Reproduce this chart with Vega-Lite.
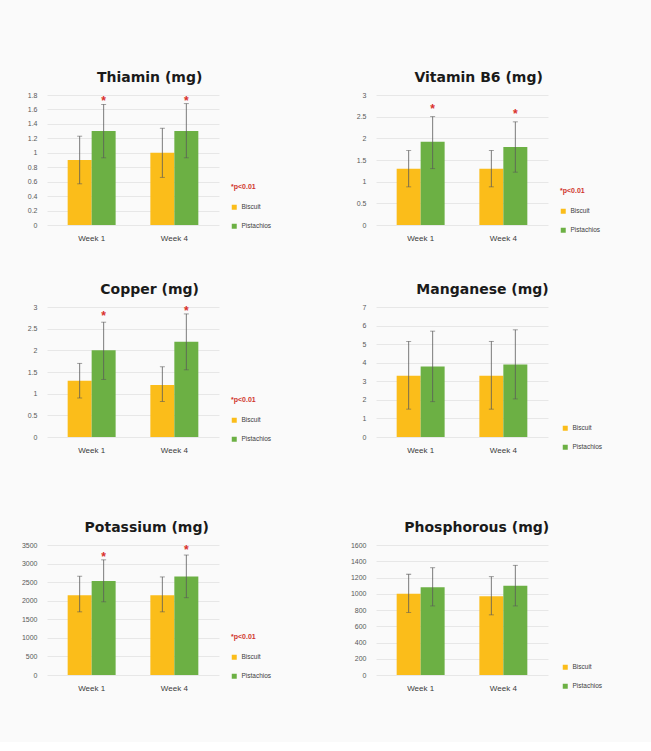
{
  "$schema": "https://vega.github.io/schema/vega-lite/v6.json",
  "background": "#fafafa",
  "padding": {"top": 71, "left": 21, "right": 50, "bottom": 50},
  "datasets": {
    "d": [
      {"n": "Thiamin", "week": "Week 1", "group": "Biscuit", "v": 0.9, "lo": 0.57, "hi": 1.23},
      {"n": "Thiamin", "week": "Week 1", "group": "Pistachios", "v": 1.3, "lo": 0.93, "hi": 1.67, "star": 1.76},
      {"n": "Thiamin", "week": "Week 4", "group": "Biscuit", "v": 1.0, "lo": 0.66, "hi": 1.34},
      {"n": "Thiamin", "week": "Week 4", "group": "Pistachios", "v": 1.3, "lo": 0.93, "hi": 1.68, "star": 1.76},
      {"n": "B6", "week": "Week 1", "group": "Biscuit", "v": 1.3, "lo": 0.88, "hi": 1.72},
      {"n": "B6", "week": "Week 1", "group": "Pistachios", "v": 1.92, "lo": 1.3, "hi": 2.5, "star": 2.74},
      {"n": "B6", "week": "Week 4", "group": "Biscuit", "v": 1.3, "lo": 0.88, "hi": 1.72},
      {"n": "B6", "week": "Week 4", "group": "Pistachios", "v": 1.8, "lo": 1.22, "hi": 2.38, "star": 2.62},
      {"n": "Copper", "week": "Week 1", "group": "Biscuit", "v": 1.3, "lo": 0.9, "hi": 1.7},
      {"n": "Copper", "week": "Week 1", "group": "Pistachios", "v": 2.0, "lo": 1.33, "hi": 2.65, "star": 2.86},
      {"n": "Copper", "week": "Week 4", "group": "Biscuit", "v": 1.2, "lo": 0.82, "hi": 1.62},
      {"n": "Copper", "week": "Week 4", "group": "Pistachios", "v": 2.2, "lo": 1.55, "hi": 2.84, "star": 2.98},
      {"n": "Manganese", "week": "Week 1", "group": "Biscuit", "v": 3.3, "lo": 1.5, "hi": 5.15},
      {"n": "Manganese", "week": "Week 1", "group": "Pistachios", "v": 3.8, "lo": 1.9, "hi": 5.7},
      {"n": "Manganese", "week": "Week 4", "group": "Biscuit", "v": 3.3, "lo": 1.5, "hi": 5.15},
      {"n": "Manganese", "week": "Week 4", "group": "Pistachios", "v": 3.9, "lo": 2.05, "hi": 5.77},
      {"n": "Potassium", "week": "Week 1", "group": "Biscuit", "v": 2150, "lo": 1700, "hi": 2660},
      {"n": "Potassium", "week": "Week 1", "group": "Pistachios", "v": 2530, "lo": 1970, "hi": 3100, "star": 3260},
      {"n": "Potassium", "week": "Week 4", "group": "Biscuit", "v": 2150, "lo": 1700, "hi": 2640},
      {"n": "Potassium", "week": "Week 4", "group": "Pistachios", "v": 2650, "lo": 2080, "hi": 3230, "star": 3440},
      {"n": "Phosphorous", "week": "Week 1", "group": "Biscuit", "v": 1000, "lo": 770, "hi": 1240},
      {"n": "Phosphorous", "week": "Week 1", "group": "Pistachios", "v": 1080, "lo": 850, "hi": 1320},
      {"n": "Phosphorous", "week": "Week 4", "group": "Biscuit", "v": 970, "lo": 740, "hi": 1210},
      {"n": "Phosphorous", "week": "Week 4", "group": "Pistachios", "v": 1100, "lo": 850, "hi": 1350}
    ]
  },
  "data": {"name": "d"},
  "columns": 2,
  "spacing": {"column": 78, "row": 41},
  "resolve": {"scale": {"x": "independent", "y": "independent", "color": "independent"}, "legend": {"color": "independent"}},
  "concat": [
    {
      "title": "Thiamin (mg)",
      "width": 172, "height": 130,
      "transform": [{"filter": "datum.n === 'Thiamin'"}],
      "encoding": {
        "x": {"field": "week", "type": "nominal", "title": null, "scale": {"paddingInner": 0.42, "paddingOuter": 0.25}},
        "xOffset": {"field": "group", "type": "nominal", "scale": {"domain": ["Biscuit", "Pistachios"]}}
      },
      "layer": [
        {"mark": {"type": "bar"}, "encoding": {
          "y": {"field": "v", "type": "quantitative", "title": null, "scale": {"domain": [0, 1.8], "nice": false}, "axis": {"values": [0, 0.2, 0.4, 0.6, 0.8, 1, 1.2, 1.4, 1.6, 1.8], "labelExpr": "'' + datum.value"}},
          "color": {"field": "group", "type": "nominal", "scale": {"domain": ["Biscuit", "Pistachios"], "range": ["#fbbd1a", "#6cb044"]}, "legend": {"title": "*p<0.01", "legendX": 184, "legendY": 88}}}},
        {"mark": {"type": "rule", "color": "#595959", "strokeWidth": 0.8}, "encoding": {"y": {"field": "lo", "type": "quantitative", "title": null, "axis": {"values": [0, 0.2, 0.4, 0.6, 0.8, 1, 1.2, 1.4, 1.6, 1.8], "labelExpr": "'' + datum.value"}}, "y2": {"field": "hi"}}},
        {"mark": {"type": "tick", "color": "#595959", "size": 5, "thickness": 0.8}, "encoding": {"y": {"field": "lo", "type": "quantitative", "title": null, "axis": {"values": [0, 0.2, 0.4, 0.6, 0.8, 1, 1.2, 1.4, 1.6, 1.8], "labelExpr": "'' + datum.value"}}}},
        {"mark": {"type": "tick", "color": "#595959", "size": 5, "thickness": 0.8}, "encoding": {"y": {"field": "hi", "type": "quantitative", "title": null, "axis": {"values": [0, 0.2, 0.4, 0.6, 0.8, 1, 1.2, 1.4, 1.6, 1.8], "labelExpr": "'' + datum.value"}}}},
        {"transform": [{"filter": "isValid(datum.star)"}], "mark": {"type": "text", "text": "*", "color": "#d9302c", "fontSize": 12, "fontWeight": "bold", "baseline": "middle", "dy": 3}, "encoding": {"y": {"field": "star", "type": "quantitative", "title": null, "axis": {"values": [0, 0.2, 0.4, 0.6, 0.8, 1, 1.2, 1.4, 1.6, 1.8], "labelExpr": "'' + datum.value"}}}}
      ]
    },
    {
      "title": "Vitamin B6 (mg)",
      "width": 172, "height": 130,
      "transform": [{"filter": "datum.n === 'B6'"}],
      "encoding": {
        "x": {"field": "week", "type": "nominal", "title": null, "scale": {"paddingInner": 0.42, "paddingOuter": 0.25}},
        "xOffset": {"field": "group", "type": "nominal", "scale": {"domain": ["Biscuit", "Pistachios"]}}
      },
      "layer": [
        {"mark": {"type": "bar"}, "encoding": {
          "y": {"field": "v", "type": "quantitative", "title": null, "scale": {"domain": [0, 3], "nice": false}, "axis": {"values": [0, 0.5, 1, 1.5, 2, 2.5, 3], "labelExpr": "'' + datum.value"}},
          "color": {"field": "group", "type": "nominal", "scale": {"domain": ["Biscuit", "Pistachios"], "range": ["#fbbd1a", "#6cb044"]}, "legend": {"title": "*p<0.01", "legendX": 184, "legendY": 92}}}},
        {"mark": {"type": "rule", "color": "#595959", "strokeWidth": 0.8}, "encoding": {"y": {"field": "lo", "type": "quantitative", "title": null, "axis": {"values": [0, 0.5, 1, 1.5, 2, 2.5, 3], "labelExpr": "'' + datum.value"}}, "y2": {"field": "hi"}}},
        {"mark": {"type": "tick", "color": "#595959", "size": 5, "thickness": 0.8}, "encoding": {"y": {"field": "lo", "type": "quantitative", "title": null, "axis": {"values": [0, 0.5, 1, 1.5, 2, 2.5, 3], "labelExpr": "'' + datum.value"}}}},
        {"mark": {"type": "tick", "color": "#595959", "size": 5, "thickness": 0.8}, "encoding": {"y": {"field": "hi", "type": "quantitative", "title": null, "axis": {"values": [0, 0.5, 1, 1.5, 2, 2.5, 3], "labelExpr": "'' + datum.value"}}}},
        {"transform": [{"filter": "isValid(datum.star)"}], "mark": {"type": "text", "text": "*", "color": "#d9302c", "fontSize": 12, "fontWeight": "bold", "baseline": "middle", "dy": 3}, "encoding": {"y": {"field": "star", "type": "quantitative", "title": null, "axis": {"values": [0, 0.5, 1, 1.5, 2, 2.5, 3], "labelExpr": "'' + datum.value"}}}}
      ]
    },
    {
      "title": "Copper (mg)",
      "width": 172, "height": 130,
      "transform": [{"filter": "datum.n === 'Copper'"}],
      "encoding": {
        "x": {"field": "week", "type": "nominal", "title": " ", "axis": {"titlePadding": 10, "titleFontSize": 16}, "scale": {"paddingInner": 0.42, "paddingOuter": 0.25}},
        "xOffset": {"field": "group", "type": "nominal", "scale": {"domain": ["Biscuit", "Pistachios"]}}
      },
      "layer": [
        {"mark": {"type": "bar"}, "encoding": {
          "y": {"field": "v", "type": "quantitative", "title": null, "scale": {"domain": [0, 3], "nice": false}, "axis": {"values": [0, 0.5, 1, 1.5, 2, 2.5, 3], "labelExpr": "'' + datum.value"}},
          "color": {"field": "group", "type": "nominal", "scale": {"domain": ["Biscuit", "Pistachios"], "range": ["#fbbd1a", "#6cb044"]}, "legend": {"title": "*p<0.01", "legendX": 184, "legendY": 89}}}},
        {"mark": {"type": "rule", "color": "#595959", "strokeWidth": 0.8}, "encoding": {"y": {"field": "lo", "type": "quantitative", "title": null, "axis": {"values": [0, 0.5, 1, 1.5, 2, 2.5, 3], "labelExpr": "'' + datum.value"}}, "y2": {"field": "hi"}}},
        {"mark": {"type": "tick", "color": "#595959", "size": 5, "thickness": 0.8}, "encoding": {"y": {"field": "lo", "type": "quantitative", "title": null, "axis": {"values": [0, 0.5, 1, 1.5, 2, 2.5, 3], "labelExpr": "'' + datum.value"}}}},
        {"mark": {"type": "tick", "color": "#595959", "size": 5, "thickness": 0.8}, "encoding": {"y": {"field": "hi", "type": "quantitative", "title": null, "axis": {"values": [0, 0.5, 1, 1.5, 2, 2.5, 3], "labelExpr": "'' + datum.value"}}}},
        {"transform": [{"filter": "isValid(datum.star)"}], "mark": {"type": "text", "text": "*", "color": "#d9302c", "fontSize": 12, "fontWeight": "bold", "baseline": "middle", "dy": 3}, "encoding": {"y": {"field": "star", "type": "quantitative", "title": null, "axis": {"values": [0, 0.5, 1, 1.5, 2, 2.5, 3], "labelExpr": "'' + datum.value"}}}}
      ]
    },
    {
      "title": "Manganese (mg)",
      "width": 172, "height": 130,
      "transform": [{"filter": "datum.n === 'Manganese'"}],
      "encoding": {
        "x": {"field": "week", "type": "nominal", "title": " ", "axis": {"titlePadding": 10, "titleFontSize": 16}, "scale": {"paddingInner": 0.42, "paddingOuter": 0.25}},
        "xOffset": {"field": "group", "type": "nominal", "scale": {"domain": ["Biscuit", "Pistachios"]}}
      },
      "layer": [
        {"mark": {"type": "bar"}, "encoding": {
          "y": {"field": "v", "type": "quantitative", "title": null, "scale": {"domain": [0, 7], "nice": false}, "axis": {"values": [0, 1, 2, 3, 4, 5, 6, 7], "labelExpr": "'' + datum.value"}},
          "color": {"field": "group", "type": "nominal", "scale": {"domain": ["Biscuit", "Pistachios"], "range": ["#fbbd1a", "#6cb044"]}, "legend": {"title": null, "legendX": 186, "legendY": 118}}}},
        {"mark": {"type": "rule", "color": "#595959", "strokeWidth": 0.8}, "encoding": {"y": {"field": "lo", "type": "quantitative", "title": null, "axis": {"values": [0, 1, 2, 3, 4, 5, 6, 7], "labelExpr": "'' + datum.value"}}, "y2": {"field": "hi"}}},
        {"mark": {"type": "tick", "color": "#595959", "size": 5, "thickness": 0.8}, "encoding": {"y": {"field": "lo", "type": "quantitative", "title": null, "axis": {"values": [0, 1, 2, 3, 4, 5, 6, 7], "labelExpr": "'' + datum.value"}}}},
        {"mark": {"type": "tick", "color": "#595959", "size": 5, "thickness": 0.8}, "encoding": {"y": {"field": "hi", "type": "quantitative", "title": null, "axis": {"values": [0, 1, 2, 3, 4, 5, 6, 7], "labelExpr": "'' + datum.value"}}}}
      ]
    },
    {
      "title": "Potassium (mg)",
      "width": 172, "height": 130,
      "transform": [{"filter": "datum.n === 'Potassium'"}],
      "encoding": {
        "x": {"field": "week", "type": "nominal", "title": null, "scale": {"paddingInner": 0.42, "paddingOuter": 0.25}},
        "xOffset": {"field": "group", "type": "nominal", "scale": {"domain": ["Biscuit", "Pistachios"]}}
      },
      "layer": [
        {"mark": {"type": "bar"}, "encoding": {
          "y": {"field": "v", "type": "quantitative", "title": null, "scale": {"domain": [0, 3500], "nice": false}, "axis": {"values": [0, 500, 1000, 1500, 2000, 2500, 3000, 3500], "labelExpr": "'' + datum.value"}},
          "color": {"field": "group", "type": "nominal", "scale": {"domain": ["Biscuit", "Pistachios"], "range": ["#fbbd1a", "#6cb044"]}, "legend": {"title": "*p<0.01", "legendX": 184, "legendY": 88}}}},
        {"mark": {"type": "rule", "color": "#595959", "strokeWidth": 0.8}, "encoding": {"y": {"field": "lo", "type": "quantitative", "title": null, "axis": {"values": [0, 500, 1000, 1500, 2000, 2500, 3000, 3500], "labelExpr": "'' + datum.value"}}, "y2": {"field": "hi"}}},
        {"mark": {"type": "tick", "color": "#595959", "size": 5, "thickness": 0.8}, "encoding": {"y": {"field": "lo", "type": "quantitative", "title": null, "axis": {"values": [0, 500, 1000, 1500, 2000, 2500, 3000, 3500], "labelExpr": "'' + datum.value"}}}},
        {"mark": {"type": "tick", "color": "#595959", "size": 5, "thickness": 0.8}, "encoding": {"y": {"field": "hi", "type": "quantitative", "title": null, "axis": {"values": [0, 500, 1000, 1500, 2000, 2500, 3000, 3500], "labelExpr": "'' + datum.value"}}}},
        {"transform": [{"filter": "isValid(datum.star)"}], "mark": {"type": "text", "text": "*", "color": "#d9302c", "fontSize": 12, "fontWeight": "bold", "baseline": "middle", "dy": 3}, "encoding": {"y": {"field": "star", "type": "quantitative", "title": null, "axis": {"values": [0, 500, 1000, 1500, 2000, 2500, 3000, 3500], "labelExpr": "'' + datum.value"}}}}
      ]
    },
    {
      "title": "Phosphorous (mg)",
      "width": 172, "height": 130,
      "transform": [{"filter": "datum.n === 'Phosphorous'"}],
      "encoding": {
        "x": {"field": "week", "type": "nominal", "title": null, "scale": {"paddingInner": 0.42, "paddingOuter": 0.25}},
        "xOffset": {"field": "group", "type": "nominal", "scale": {"domain": ["Biscuit", "Pistachios"]}}
      },
      "layer": [
        {"mark": {"type": "bar"}, "encoding": {
          "y": {"field": "v", "type": "quantitative", "title": null, "scale": {"domain": [0, 1600], "nice": false}, "axis": {"values": [0, 200, 400, 600, 800, 1000, 1200, 1400, 1600], "labelExpr": "'' + datum.value"}},
          "color": {"field": "group", "type": "nominal", "scale": {"domain": ["Biscuit", "Pistachios"], "range": ["#fbbd1a", "#6cb044"]}, "legend": {"title": null, "legendX": 186, "legendY": 119}}}},
        {"mark": {"type": "rule", "color": "#595959", "strokeWidth": 0.8}, "encoding": {"y": {"field": "lo", "type": "quantitative", "title": null, "axis": {"values": [0, 200, 400, 600, 800, 1000, 1200, 1400, 1600], "labelExpr": "'' + datum.value"}}, "y2": {"field": "hi"}}},
        {"mark": {"type": "tick", "color": "#595959", "size": 5, "thickness": 0.8}, "encoding": {"y": {"field": "lo", "type": "quantitative", "title": null, "axis": {"values": [0, 200, 400, 600, 800, 1000, 1200, 1400, 1600], "labelExpr": "'' + datum.value"}}}},
        {"mark": {"type": "tick", "color": "#595959", "size": 5, "thickness": 0.8}, "encoding": {"y": {"field": "hi", "type": "quantitative", "title": null, "axis": {"values": [0, 200, 400, 600, 800, 1000, 1200, 1400, 1600], "labelExpr": "'' + datum.value"}}}}
      ]
    }
  ],
  "config": {
    "font": "Liberation Sans",
    "view": {"stroke": null},
    "title": {"fontSize": 14, "font": "DejaVu Sans", "fontWeight": "bold", "color": "#1a1a1a", "frame": "bounds", "anchor": "middle", "offset": 6},
    "axis": {"labelFontSize": 7, "labelColor": "#595959", "ticks": false, "domain": false},
    "axisY": {"grid": true, "gridColor": "#e2e2e2", "gridWidth": 0.8, "labelPadding": 10},
    "axisX": {"grid": false, "labelFontSize": 8, "labelColor": "#3a3a3a", "labelPadding": 9, "labelAngle": 0},
    "legend": {"orient": "none", "symbolType": "square", "symbolSize": 25, "symbolStrokeWidth": 0, "labelFontSize": 6.5, "labelColor": "#404040", "rowPadding": 12, "titleFontSize": 7, "titleColor": "#d0342c", "titleFontWeight": "bold", "titlePadding": 14, "padding": 0}
  }
}
